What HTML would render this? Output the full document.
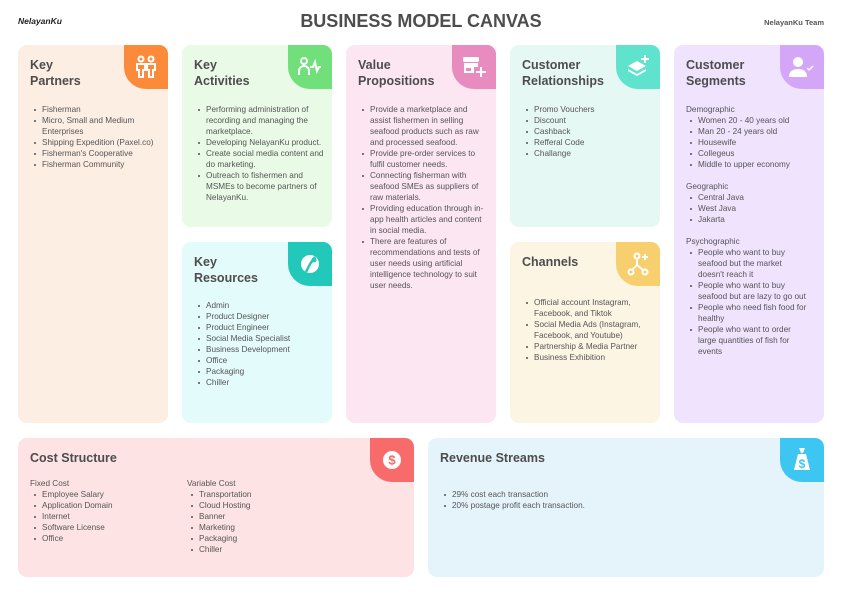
<!DOCTYPE html>
<html><head><meta charset="utf-8"><style>
*{margin:0;padding:0;box-sizing:border-box}
body{width:842px;height:595px;background:#fff;position:relative;overflow:hidden;font-family:"Liberation Sans",sans-serif;color:#555}
.c{position:absolute;border-radius:9px;overflow:hidden}
.b{position:absolute;right:0;top:0;width:44px;height:44px;border-bottom-left-radius:22px;display:flex;align-items:center;justify-content:center}
.t{position:absolute;left:12px;font-weight:bold;font-size:12.5px;line-height:16px;color:#4d4d4d}
.l{position:absolute;font-size:8.2px;line-height:11px;color:#555}
ul{list-style:none}
li{position:relative;padding-left:12px}
li:before{content:"";position:absolute;left:4px;top:5px;width:2px;height:2px;background:#777}
</style></head><body>
<div style="position:absolute;left:18px;top:16px;font-size:8.5px;font-weight:bold;font-style:italic;color:#222">NelayanKu</div>
<div style="position:absolute;left:0;width:842px;top:11px;text-align:center;font-size:18px;font-weight:bold;color:#4d4d4d">BUSINESS MODEL CANVAS</div>
<div style="position:absolute;right:18px;top:18px;font-size:7.5px;font-weight:bold;color:#555">NelayanKu Team</div>

<div class="c" style="left:18px;top:45px;width:150px;height:378px;background:#fdeee4">
<div class="b" style="background:#fb8a3a"><svg width="24" height="24" viewBox="0 0 24 24" fill="none" stroke="#fff" stroke-width="2"><circle cx="7" cy="4" r="2.5"/><circle cx="17" cy="4" r="2.5"/><path d="M3 9h8v6h-2v7H5v-7H3zM13 9h8v6h-2v7h-4v-7h-2z"/></svg></div>
<div class="t" style="top:12px">Key<br>Partners</div>
<ul class="l" style="left:12px;top:59px;width:132px"><li>Fisherman</li><li>Micro, Small and Medium Enterprises</li><li>Shipping Expedition (Paxel.co)</li><li>Fisherman's Cooperative</li><li>Fisherman Community</li></ul>
</div>

<div class="c" style="left:182px;top:45px;width:150px;height:182px;background:#e9fbe6">
<div class="b" style="background:#72e07a"><svg width="24" height="20" viewBox="0 0 24 20" fill="none" stroke="#fff" stroke-width="2"><circle cx="6" cy="4" r="3"/><path d="M1 18v-4a5 5 0 0 1 10 0v4M12 10h3l2-5 2 9 2-4h2"/></svg></div>
<div class="t" style="top:12px">Key<br>Activities</div>
<ul class="l" style="left:12px;top:59px;width:130px"><li>Performing administration of recording and managing the marketplace.</li><li>Developing NelayanKu product.</li><li>Create social media content and do marketing.</li><li>Outreach to fishermen and MSMEs to become partners of NelayanKu.</li></ul>
</div>

<div class="c" style="left:182px;top:242px;width:150px;height:181px;background:#e3fbfa">
<div class="b" style="background:#22c9bb"><svg width="20" height="20" viewBox="0 0 20 20"><circle cx="10" cy="10" r="9" fill="#fff"/><path d="M10 10L15 3M10 10l-4 8" stroke="#22c9bb" stroke-width="2.5"/><circle cx="14" cy="6" r="2.5" fill="#22c9bb"/></svg></div>
<div class="t" style="top:12px">Key<br>Resources</div>
<ul class="l" style="left:12px;top:58px;width:130px"><li>Admin</li><li>Product Designer</li><li>Product Engineer</li><li>Social Media Specialist</li><li>Business Development</li><li>Office</li><li>Packaging</li><li>Chiller</li></ul>
</div>

<div class="c" style="left:346px;top:45px;width:150px;height:378px;background:#fbe6f2">
<div class="b" style="background:#e88cc0"><svg width="24" height="22" viewBox="0 0 24 22" fill="#fff"><rect x="1" y="1" width="16" height="5" rx="1.5"/><path d="M2 7h14v4H2z"/><path d="M2 11h10v6H2z" /><rect x="4" y="12" width="5" height="3" fill="#e88cc0"/><path d="M18 11h2v4h4v2h-4v4h-2v-4h-4v-2h4z"/></svg></div>
<div class="t" style="top:12px">Value<br>Propositions</div>
<ul class="l" style="left:12px;top:59px;width:130px"><li>Provide a marketplace and assist fishermen in selling seafood products such as raw and processed seafood.</li><li>Provide pre-order services to fulfil customer needs.</li><li>Connecting fisherman with seafood SMEs as suppliers of raw materials.</li><li>Providing education through in-app health articles and content in social media.</li><li>There are features of recommendations and tests of user needs using artificial intelligence technology to suit user needs.</li></ul>
</div>

<div class="c" style="left:510px;top:45px;width:150px;height:182px;background:#e6f8f4">
<div class="b" style="background:#5fe3cc"><svg width="24" height="24" viewBox="0 0 24 24" fill="#fff"><path d="M11 6l9 5-9 5-9-5z"/><path d="M2 14l9 5 9-5v2l-9 5-9-5z"/><path d="M18 0h2v3h3v2h-3v3h-2V5h-3V3h3z"/></svg></div>
<div class="t" style="top:12px">Customer<br>Relationships</div>
<ul class="l" style="left:12px;top:59px;width:130px"><li>Promo Vouchers</li><li>Discount</li><li>Cashback</li><li>Refferal Code</li><li>Challange</li></ul>
</div>

<div class="c" style="left:510px;top:242px;width:150px;height:181px;background:#fdf5e4">
<div class="b" style="background:#f7cf6e"><svg width="24" height="24" viewBox="0 0 24 24" fill="none" stroke="#fff" stroke-width="2"><circle cx="11" cy="4" r="2.5"/><circle cx="5" cy="20" r="2.5"/><circle cx="19" cy="20" r="2.5"/><path d="M11 7v6M11 13l-5 5M11 13l6 5M19 2v6M16 5h6"/></svg></div>
<div class="t" style="top:12px">Channels</div>
<ul class="l" style="left:12px;top:55px;width:132px"><li>Official account Instagram, Facebook, and Tiktok</li><li>Social Media Ads (Instagram, Facebook, and Youtube)</li><li>Partnership &amp; Media Partner</li><li>Business Exhibition</li></ul>
</div>

<div class="c" style="left:674px;top:45px;width:150px;height:378px;background:#f0e3fd">
<div class="b" style="background:#d4a6f8"><svg width="26" height="22" viewBox="0 0 26 22" fill="#fff"><circle cx="9" cy="6" r="5"/><path d="M0 21c0-6 4-8 9-8s9 2 9 8z"/><path d="M18 12l2 2 4-4" stroke="#fff" stroke-width="1.5" fill="none"/></svg></div>
<div class="t" style="top:12px">Customer<br>Segments</div>
<div class="l" style="left:12px;top:59px;width:122px">Demographic
<ul><li>Women 20 - 40 years old</li><li>Man 20 - 24 years old</li><li>Housewife</li><li>Collegeus</li><li>Middle to upper economy</li></ul>
<div style="height:11px"></div>Geographic
<ul><li>Central Java</li><li>West Java</li><li>Jakarta</li></ul>
<div style="height:11px"></div>Psychographic
<ul><li>People who want to buy seafood but the market doesn't reach it</li><li>People who want to buy seafood but are lazy to go out</li><li>People who need fish food for healthy</li><li>People who want to order large quantities of fish for events</li></ul>
</div>
</div>

<div class="c" style="left:18px;top:438px;width:396px;height:139px;background:#fde3e3">
<div class="b" style="background:#f76b6b"><svg width="20" height="20" viewBox="0 0 20 20"><circle cx="10" cy="10" r="9" fill="#fff"/><text x="10" y="14.5" text-anchor="middle" font-size="13" font-weight="bold" fill="#f76b6b" font-family="Liberation Sans">$</text></svg></div>
<div class="t" style="top:12px">Cost Structure</div>
<div class="l" style="left:12px;top:40px;width:150px">Fixed Cost<ul><li>Employee Salary</li><li>Application Domain</li><li>Internet</li><li>Software License</li><li>Office</li></ul></div>
<div class="l" style="left:169px;top:40px;width:150px">Variable Cost<ul><li>Transportation</li><li>Cloud Hosting</li><li>Banner</li><li>Marketing</li><li>Packaging</li><li>Chiller</li></ul></div>
</div>

<div class="c" style="left:428px;top:438px;width:396px;height:139px;background:#e5f4fb">
<div class="b" style="background:#3ec6f2"><svg width="18" height="26" viewBox="0 0 18 26"><path d="M6 1h6l-2 5h-2z" fill="#fff"/><path d="M5 7h8l4 16H1z" fill="#fff"/><text x="9" y="21" text-anchor="middle" font-size="12" font-weight="bold" fill="#3ec6f2" font-family="Liberation Sans">$</text></svg></div>
<div class="t" style="top:12px">Revenue Streams</div>
<ul class="l" style="left:12px;top:51px;width:300px"><li>29% cost each transaction</li><li>20% postage profit each transaction.</li></ul>
</div>
</body></html>
